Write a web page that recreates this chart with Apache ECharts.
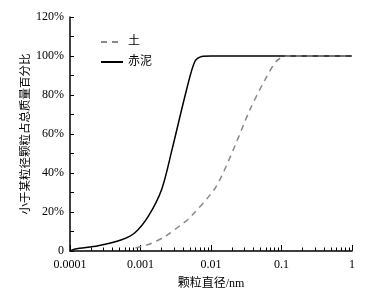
<!DOCTYPE html>
<html>
<head>
<meta charset="utf-8">
<script src="https://cdn.jsdelivr.net/npm/echarts@6/dist/echarts.min.js"></script>
<style>
  html, body { margin: 0; padding: 0; background: #fff; }
  #chart { width: 376px; height: 295px; }
</style>
</head>
<body>
<div id="chart"></div>
<script>
// 颗粒粒径 (nm) 与累计百分比
var mudSize = [0.0001, 0.000118, 0.00025, 0.00054, 0.00084, 0.0013, 0.002, 0.0028, 0.0045, 0.0059, 0.0074, 0.01, 0.1, 1];
var mudPct = [0, 1, 2.7, 5.8, 9.5, 18, 31.7, 52, 82.7, 97.2, 99.8, 100, 100, 100];
var soilSize = [0.00085, 0.00136, 0.00223, 0.00405, 0.0053, 0.0108, 0.0142, 0.0219, 0.0357, 0.0583, 0.0855, 0.12, 1];
var soilPct = [1.5, 3.6, 7.5, 14.3, 18, 30.9, 38.5, 54, 72.5, 87.8, 97.5, 100, 100];
var xTicks = [0.0001, 0.001, 0.01, 0.1, 1];
var xTickLabels = ["0.0001", "0.001", "0.01", "0.1", "1"];

var minorTicks = [];
for (var d = 0; d < xTicks.length - 1; d++) {
  for (var k = 2; k <= 9; k++) {
    minorTicks.push(+(xTicks[d] * k).toPrecision(6));
  }
}

function zip(a, b) {
  var out = [];
  for (var i = 0; i < a.length; i++) out.push([a[i], b[i]]);
  return out;
}

var font = "'Liberation Serif', 'Times New Roman', 'Noto Sans CJK SC', serif";
var myChart = echarts.init(document.getElementById("chart"));
var option = {
  animation: false,
  textStyle: { fontFamily: font, color: "#000" },
  grid: { left: 70, right: 24, top: 17, bottom: 43 },
  legend: {
    orient: "vertical",
    left: 95,
    top: 31,
    itemWidth: 22,
    itemHeight: 12,
    itemGap: 8,
    itemStyle: { color: "transparent", borderColor: "transparent", borderWidth: 0, opacity: 0 },
    textStyle: { fontFamily: font, fontSize: 12, color: "#000" },
    data: ["土", "赤泥"]
  },
  xAxis: [
    {
      type: "log",
      logBase: 10,
      min: 0.0001,
      max: 1,
      name: "颗粒直径/nm",
      nameLocation: "middle",
      nameGap: 27,
      nameTextStyle: { fontFamily: font, fontSize: 12, color: "#000" },
      axisLine: { lineStyle: { color: "#000", width: 1.5 } },
      axisTick: { inside: true, length: 6, customValues: xTicks, lineStyle: { color: "#000" } },
      axisLabel: {
        customValues: xTicks,
        fontFamily: font,
        fontSize: 12,
        color: "#000",
        margin: 8,
        formatter: function (v) {
          var i = xTicks.indexOf(v);
          return i >= 0 ? xTickLabels[i] : "";
        }
      },
      splitLine: { show: false }
    },
    {
      type: "log",
      logBase: 10,
      min: 0.0001,
      max: 1,
      position: "bottom",
      axisLine: { show: false },
      axisTick: { inside: true, length: 3.5, customValues: minorTicks, lineStyle: { color: "#000" } },
      axisLabel: { show: false },
      splitLine: { show: false }
    }
  ],
  yAxis: {
    type: "value",
    min: 0,
    max: 120,
    interval: 20,
    name: "小于某粒径颗粒占总质量百分比",
    nameLocation: "middle",
    nameRotate: 90,
    nameGap: 38,
    nameMoveOverlap: false,
    nameTextStyle: { fontFamily: font, fontSize: 11.5, color: "#000" },
    axisLine: { show: true, lineStyle: { color: "#000", width: 1.5 } },
    axisTick: { show: true, inside: true, length: 4, lineStyle: { color: "#000" } },
    minorTick: { show: true, splitNumber: 2, length: 4, lineStyle: { color: "#000" } },
    axisLabel: {
      fontFamily: font,
      fontSize: 12,
      color: "#000",
      margin: 6,
      formatter: function (v) { return v === 0 ? "0" : v + "%"; }
    },
    splitLine: { show: false }
  },
  series: [
    {
      name: "土",
      type: "line",
      data: zip(soilSize, soilPct),
      showSymbol: false,
      symbol: "none",
      smooth: 0.3,
      z: 3,
      itemStyle: { color: "#888" },
      lineStyle: { color: "#888", width: 1.5, type: [6, 5] }
    },
    {
      name: "赤泥",
      type: "line",
      data: zip(mudSize, mudPct),
      showSymbol: false,
      symbol: "none",
      smooth: 0.3,
      z: 2,
      itemStyle: { color: "#000" },
      lineStyle: { color: "#000", width: 1.5 }
    }
  ]
};
myChart.setOption(option);
</script>
</body>
</html>
